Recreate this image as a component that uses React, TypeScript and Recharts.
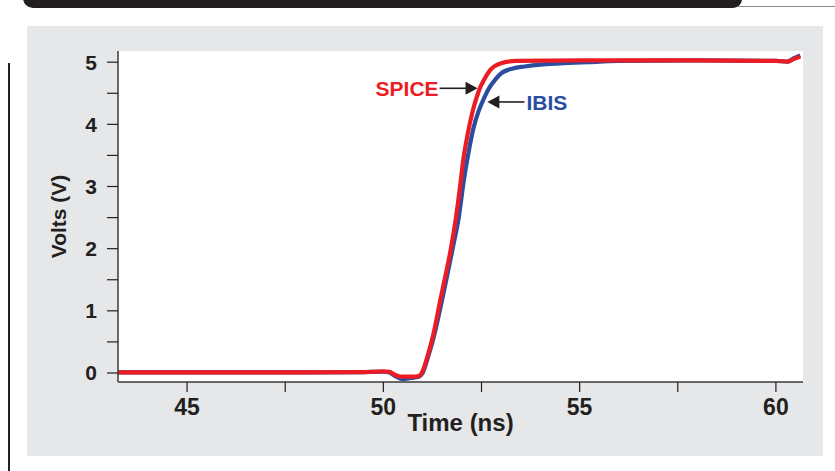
import { LineChart, Line, XAxis, YAxis, CartesianGrid, ReferenceDot } from 'recharts';

// SPICE reference waveform (ns, V)
const spiceTime = [43.24, 46, 48, 49.5, 50.0, 50.15, 50.3, 50.45, 50.7, 50.9, 51.0, 51.12, 51.28, 51.45, 51.58, 51.72, 51.84, 51.95, 52.04, 52.15, 52.27, 52.4, 52.47, 52.55, 52.73, 52.98, 53.4, 55, 58, 60.0, 60.3, 60.45, 60.62];
const spiceVolts = [0.01, 0.01, 0.01, 0.015, 0.025, 0.02, -0.03, -0.06, -0.06, -0.05, 0.03, 0.26, 0.64, 1.17, 1.56, 2.0, 2.46, 2.98, 3.45, 3.85, 4.2, 4.48, 4.6, 4.7, 4.88, 4.98, 5.02, 5.03, 5.03, 5.02, 5.01, 5.05, 5.09];

// IBIS model waveform (ns, V)
const ibisTime = [43.24, 46, 48, 49.5, 50.0, 50.15, 50.3, 50.48, 50.7, 50.9, 51.0, 51.12, 51.3, 51.47, 51.62, 51.78, 51.92, 52.05, 52.17, 52.3, 52.42, 52.55, 52.68, 52.85, 53.0, 53.3, 53.6, 54.0, 54.5, 55.2, 56, 58, 60, 60.3, 60.45, 60.62];
const ibisVolts = [0.01, 0.01, 0.01, 0.015, 0.02, 0.01, -0.05, -0.1, -0.08, -0.06, 0.0, 0.22, 0.62, 1.1, 1.55, 2.05, 2.5, 3.1, 3.55, 3.95, 4.2, 4.4, 4.57, 4.72, 4.82, 4.9, 4.93, 4.96, 4.98, 5.0, 5.02, 5.03, 5.02, 5.01, 5.06, 5.11];

const xDomain = [43.24, 60.69];
const yDomain = [-0.145, 5.18];
const xTicks = [45, 47.5, 50, 52.5, 55, 57.5, 60];
const yTicks = [0, 0.5, 1, 1.5, 2, 2.5, 3, 3.5, 4, 4.5, 5];

// annotation arrow tips (ns, V)
const spiceNote = { t: 52.4, v: 4.58, text: 'SPICE' };
const ibisNote = { t: 52.65, v: 4.36, text: 'IBIS' };

const spiceData = spiceTime.map((t, i) => ({ t, v: spiceVolts[i] }));
const ibisData = ibisTime.map((t, i) => ({ t, v: ibisVolts[i] }));

const RED = '#ec1c24';
const BLUE = '#2b4da0';
const INK = '#231f20';
const SANS = '"Liberation Sans", Arial, sans-serif';
const NARROW = '"Liberation Sans Narrow", "Liberation Sans", Arial, sans-serif';

const XTick = ({ x, y, payload }: any) =>
  Number.isInteger(payload.value) ? (
    <text x={x} y={y} dy="0.71em" textAnchor="middle" fontFamily={NARROW} fontWeight="bold" fontSize={23} fill={INK}>
      {payload.value}
    </text>
  ) : (
    <g />
  );

const YTick = ({ x, y, payload }: any) =>
  Number.isInteger(payload.value) ? (
    <text x={x} y={y} dy="0.355em" textAnchor="end" fontFamily={SANS} fontWeight="bold" fontSize={21} fill={INK}>
      {payload.value}
    </text>
  ) : (
    <g />
  );

const TimeLabel = ({ viewBox }: any) => (
  <text x={viewBox.x + viewBox.width / 2} y={viewBox.y + 49} textAnchor="middle" fontFamily={NARROW} fontWeight="bold" fontSize={24} fill={INK}>
    Time (ns)
  </text>
);

const VoltsLabel = ({ viewBox }: any) => {
  const cx = viewBox.x + 58;
  const cy = viewBox.y + viewBox.height / 2;
  return (
    <text x={cx} y={cy} transform={`rotate(-90 ${cx} ${cy})`} dy="0.36em" textAnchor="middle" fontFamily={SANS} fontWeight="bold" fontSize={21} fill={INK}>
      Volts (V)
    </text>
  );
};

// arrow pointing right at (cx, cy), text on the left
const LeftNote = ({ cx, cy }: any) => (
  <g>
    <line x1={cx - 38} y1={cy} x2={cx - 10} y2={cy} stroke={INK} strokeWidth={1.6} />
    <polygon points={`${cx},${cy} ${cx - 12},${cy - 6.5} ${cx - 12},${cy + 6.5}`} fill={INK} />
    <text x={cx - 39} y={cy} dy="0.36em" textAnchor="end" fontFamily={SANS} fontWeight="bold" fontSize={21} fill={RED}>
      {spiceNote.text}
    </text>
  </g>
);

// arrow pointing left at (cx, cy), text on the right
const RightNote = ({ cx, cy }: any) => (
  <g>
    <line x1={cx + 10} y1={cy} x2={cx + 37} y2={cy} stroke={INK} strokeWidth={1.6} />
    <polygon points={`${cx},${cy} ${cx + 12},${cy - 6.5} ${cx + 12},${cy + 6.5}`} fill={INK} />
    <text x={cx + 39} y={cy} dy="0.36em" textAnchor="start" fontFamily={SANS} fontWeight="bold" fontSize={21} fill={BLUE}>
      {ibisNote.text}
    </text>
  </g>
);

export default function App() {
  return (
    <div style={{ position: 'absolute', left: 0, top: 0, width: 835, height: 471, background: '#fff', overflow: 'hidden' }}>
      {/* page header strip */}
      <div style={{ position: 'absolute', left: 23, top: -12, width: 719, height: 20, background: INK, borderBottomLeftRadius: 10, borderBottomRightRadius: 9 }} />
      <div style={{ position: 'absolute', left: 738, top: 6, width: 97, height: 1, background: '#8a8a8a' }} />
      <div style={{ position: 'absolute', left: 8, top: 63, width: 1.5, height: 408, background: INK }} />
      <div style={{ position: 'absolute', left: 27, top: 26, width: 796, height: 430, background: '#e6e7e8' }} />

      <div style={{ position: 'absolute', left: 0, top: 0 }}>
        <LineChart width={835} height={471} margin={{ top: 51, right: 32, bottom: 0, left: 0 }}>
          <CartesianGrid fill="#fff" horizontal={false} vertical={false} />
          <XAxis
            dataKey="t"
            type="number"
            domain={xDomain}
            allowDataOverflow
            ticks={xTicks}
            interval={0}
            height={89}
            tickSize={10}
            tickMargin={7}
            stroke={INK}
            axisLine={{ stroke: '#3a3a3a', strokeWidth: 1.5 }}
            tickLine={{ stroke: INK, strokeWidth: 1.2 }}
            tick={<XTick />}
            label={{ content: <TimeLabel /> }}
          />
          <XAxis
            xAxisId="top"
            orientation="top"
            type="number"
            domain={xDomain}
            allowDataOverflow
            height={0}
            tick={false}
            tickLine={false}
            axisLine={{ stroke: '#3a3a3a', strokeWidth: 1.5 }}
          />
          <YAxis
            type="number"
            domain={yDomain}
            allowDataOverflow
            ticks={yTicks}
            interval={0}
            width={118}
            tickSize={11}
            tickMargin={10}
            axisLine={{ stroke: '#3a3a3a', strokeWidth: 1.5 }}
            tickLine={{ stroke: INK, strokeWidth: 1.2 }}
            tick={<YTick />}
            label={{ content: <VoltsLabel /> }}
          />
          <YAxis
            yAxisId="right"
            orientation="right"
            type="number"
            domain={yDomain}
            allowDataOverflow
            width={0}
            tick={false}
            tickLine={false}
            axisLine={{ stroke: '#4a4a4a', strokeWidth: 2 }}
          />
          <Line data={ibisData} dataKey="v" type="monotone" stroke={BLUE} strokeWidth={4.2} dot={false} isAnimationActive={false} />
          <Line data={spiceData} dataKey="v" type="monotone" stroke={RED} strokeWidth={4.2} dot={false} isAnimationActive={false} />
          <ReferenceDot x={spiceNote.t} y={spiceNote.v} shape={<LeftNote />} ifOverflow="visible" />
          <ReferenceDot x={ibisNote.t} y={ibisNote.v} shape={<RightNote />} ifOverflow="visible" />
        </LineChart>
      </div>
    </div>
  );
}
